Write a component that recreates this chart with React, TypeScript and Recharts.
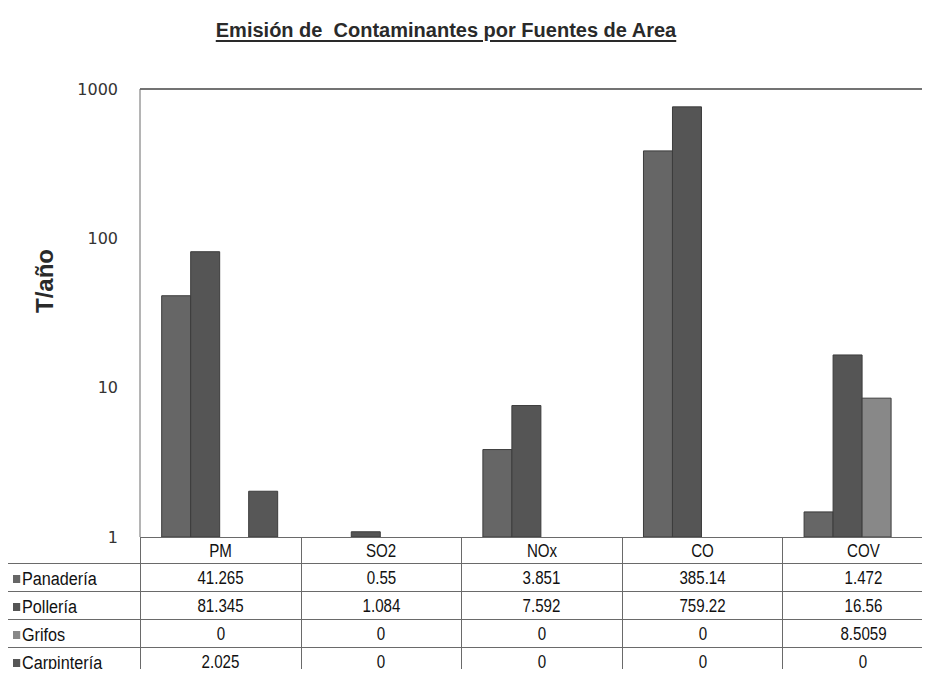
import React from 'react';
import { BarChart, Bar, XAxis, YAxis, ReferenceLine } from 'recharts';

const categories = ['PM', 'SO2', 'NOx', 'CO', 'COV'];
const panaderia = [41.265, 0.55, 3.851, 385.14, 1.472];
const polleria = [81.345, 1.084, 7.592, 759.22, 16.56];
const grifos = [0, 0, 0, 0, 8.5059];
const carpinteria = [2.025, 0, 0, 0, 0];
const yTicks = [1, 10, 100, 1000];

const series = [
  { name: 'Panadería', values: panaderia, color: '#666666' },
  { name: 'Pollería', values: polleria, color: '#555555' },
  { name: 'Grifos', values: grifos, color: '#888888' },
  { name: 'Carpintería', values: carpinteria, color: '#575757' },
];

// anything under the axis floor (1) is off the log scale, leave it empty
const data = categories.map((cat, i) => {
  const row: Record<string, string | number | null> = { cat };
  series.forEach((s) => {
    row[s.name] = s.values[i] >= 1 ? s.values[i] : null;
  });
  return row;
});

const PLOT_LEFT = 140;
const PLOT_RIGHT = 943;
const PLOT_TOP = 89;
const PLOT_BOTTOM = 537;
const HEAD_H = 26;
const ROW_H = 28;
const TABLE_LEFT = 4;
const colW = (PLOT_RIGHT - PLOT_LEFT) / categories.length;
const tableFont = '"Liberation Sans", Arial, sans-serif';
const lineColor = '#6a6a6a';

const Narrow: React.FC<{ children: React.ReactNode }> = ({ children }) => (
  <span style={{ display: 'inline-block', transform: 'scaleX(0.84)', transformOrigin: 'center' }}>{children}</span>
);

const App: React.FC = () => {
  return (
    <div style={{ position: 'relative', width: 930, height: 677, margin: -8, overflow: 'hidden', background: '#fff' }}>
      <div
        style={{
          position: 'absolute', left: 0, top: 19, width: 892, textAlign: 'center',
          fontFamily: '"Liberation Sans", Arial, sans-serif', fontWeight: 'bold', fontSize: 20,
          color: '#2a2a2a', textDecoration: 'underline', textDecorationThickness: 2, textUnderlineOffset: 3,
        }}
      >
        Emisión de&nbsp; Contaminantes por Fuentes de Area
      </div>

      <div
        style={{
          position: 'absolute', left: 45, top: 281, transform: 'translate(-50%, -50%) rotate(-90deg)',
          fontFamily: '"Liberation Sans", Arial, sans-serif', fontWeight: 'bold', fontSize: 24, color: '#2a2a2a',
          whiteSpace: 'nowrap',
        }}
      >
        T/año
      </div>

      <div style={{ position: 'absolute', left: 0, top: 0 }}>
        <BarChart
          width={960}
          height={677}
          data={data}
          margin={{ top: PLOT_TOP, right: 960 - PLOT_RIGHT, bottom: 677 - PLOT_BOTTOM, left: PLOT_LEFT - 60 }}
          barCategoryGap="13.5%"
          barGap={0}
        >
          <XAxis dataKey="cat" hide />
          <YAxis
            width={60}
            scale="log"
            domain={[1, 1000]}
            ticks={yTicks}
            allowDataOverflow
            tickSize={0}
            tickMargin={22}
            axisLine={{ stroke: lineColor }}
            tick={{ fontFamily: '"DejaVu Sans", Verdana, sans-serif', fontSize: 16, fill: '#333' }}
          />
          <ReferenceLine y={1000} stroke="#444" strokeWidth={1.5} />
          {series.map((s) => (
            <Bar key={s.name} dataKey={s.name} fill={s.color} stroke="#3c3c3c" strokeWidth={1} isAnimationActive={false} />
          ))}
        </BarChart>
      </div>

      <table
        style={{
          position: 'absolute', left: TABLE_LEFT, top: PLOT_BOTTOM, borderCollapse: 'collapse', tableLayout: 'fixed',
          width: PLOT_RIGHT - TABLE_LEFT, fontFamily: tableFont, fontSize: 18, color: '#111', lineHeight: '20px',
        }}
      >
        <colgroup>
          <col style={{ width: PLOT_LEFT - TABLE_LEFT }} />
          {categories.map((c) => (
            <col key={c} style={{ width: colW }} />
          ))}
        </colgroup>
        <tbody>
          <tr style={{ height: HEAD_H }}>
            <td style={{ borderRight: `1px solid ${lineColor}`, padding: 0 }} />
            {categories.map((c) => (
              <td key={c} style={{ border: `1px solid ${lineColor}`, textAlign: 'center', padding: 0 }}>
                <Narrow>{c}</Narrow>
              </td>
            ))}
          </tr>
          {series.map((s) => (
            <tr key={s.name} style={{ height: ROW_H }}>
              <td style={{ border: `1px solid ${lineColor}`, padding: '0 0 0 8px', whiteSpace: 'nowrap' }}>
                <span
                  style={{
                    display: 'inline-flex', alignItems: 'center', transform: 'scaleX(0.9)', transformOrigin: 'left center',
                  }}
                >
                  <span style={{ display: 'inline-block', width: 8, height: 8, background: s.color, marginRight: 2 }} />
                  {s.name}
                </span>
              </td>
              {s.values.map((v, i) => (
                <td key={i} style={{ border: `1px solid ${lineColor}`, textAlign: 'center', padding: 0 }}>
                  <Narrow>{v}</Narrow>
                </td>
              ))}
            </tr>
          ))}
        </tbody>
      </table>
    </div>
  );
};

export default App;
